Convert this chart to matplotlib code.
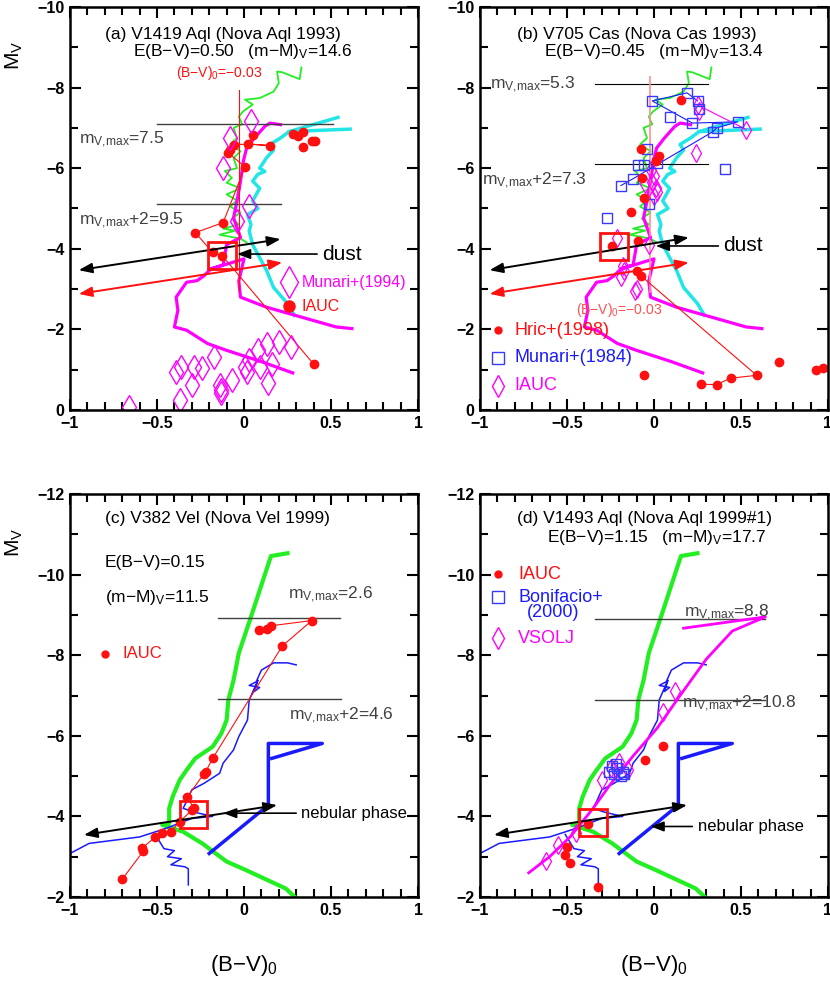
import matplotlib
matplotlib.use("Agg")
import matplotlib.pyplot as plt
from matplotlib.ticker import MultipleLocator

plt.rcParams["font.family"] = ["Liberation Sans", "DejaVu Sans"]
plt.rcParams["mathtext.default"] = "regular"

GREEN = "#22ee22"
CYAN = "#22e5e5"
MAG = "#ff00ff"
RED = "#ff1010"
BLUE = "#1a1aff"
GRAY = "#404040"

# ---- template tracks shared by panels (a) and (b) ----
ab_green_x = [0.33, 0.32, 0.22, 0.19, 0.20, 0.17, 0.09, 0.006, 0.05, -0.005, -0.03, -0.01, -0.06,
              -0.04, -0.08, -0.02, -0.06, -0.04, -0.11, -0.07, -0.10, -0.02, -0.10, -0.04, -0.08,
              -0.02, -0.07, -0.03, -0.12, -0.05, -0.14, -0.02, 0.015]
ab_green_y = [-8.50, -8.21, -8.38, -8.40, -8.11, -7.90, -7.74, -7.70, -7.58, -7.41, -7.28, -7.09, -7.0,
              -6.75, -6.59, -6.42, -6.25, -6.0, -5.93, -5.76, -5.64, -5.5, -5.35, -5.2, -5.05,
              -4.9, -4.75, -4.6, -4.5, -4.45, -4.35, -4.25, -4.16]
ab_cyan_x = [0.61, 0.26, 0.21, 0.15, 0.17, 0.13, 0.09, 0.12, 0.08, 0.05, 0.09, 0.05, 0.08, 0.02,
             0.04, 0.03, 0.05, 0.13, 0.17, 0.25, 0.29]
ab_cyan_y = [-6.97, -6.91, -6.75, -6.59, -6.45, -6.26, -6.0, -5.92, -5.85, -5.68, -5.5, -5.19,
             -5.0, -4.85, -4.6, -4.44, -4.1, -3.46, -3.04, -2.64, -2.35]
ab_cyan2_x = [0.54, 0.26]
ab_cyan2_y = [-7.26, -6.91]
ab_mag1_x = [0.21, 0.15, 0.12, 0.06, 0.015, -0.004, -0.02, -0.04, -0.06, -0.02, -0.10, -0.12,
             -0.19, 0.0, -0.03, -0.02, 0.13, 0.53, 0.62]
ab_mag1_y = [-7.08, -7.12, -7.04, -6.75, -6.5, -6.17, -5.68, -5.19, -4.77, -4.28, -4.1, -3.6,
             -3.5, -3.75, -3.2, -2.8, -2.55, -2.06, -2.02]
ab_mag2_x = [-0.19, -0.23, -0.27, -0.33, -0.39, -0.38, -0.40, -0.33, -0.21, -0.10, 0.10, 0.28]
ab_mag2_y = [-3.5, -3.33, -3.21, -3.17, -2.80, -2.47, -2.06, -1.98, -1.65, -1.48, -1.2, -0.92]

# ---- template tracks shared by panels (c) and (d) ----
cd_green_x = [0.25, 0.155, 0.11, 0.04, -0.03, -0.06, -0.09, -0.10, -0.13, -0.18, -0.28, -0.33,
              -0.37, -0.41, -0.43, -0.43, -0.47, -0.35, -0.24, -0.10, 0.01, 0.24, 0.30]
cd_green_y = [-10.53, -10.46, -9.87, -8.95, -8.05, -7.38, -6.89, -6.39, -6.06, -5.73, -5.44, -5.15,
              -4.90, -4.49, -4.20, -3.83, -3.79, -3.62, -3.33, -2.88, -2.67, -2.21, -1.97]
cd_blue_x = [0.30, 0.25, 0.17, 0.10, 0.07, 0.03, 0.09, 0.06, 0.08, 0.03, 0.02, -0.03, -0.06, -0.12,
             -0.14, -0.23, -0.30, -0.33, -0.35, -0.28, -0.18, -0.30, -0.45, -0.60, -0.89, -1.0]
cd_blue_y = [-7.76, -7.81, -7.81, -7.63, -7.34, -7.25, -7.2, -7.1, -7.38, -6.89, -6.39, -5.98, -5.65,
             -5.32, -5.07, -4.82, -4.66, -4.37, -4.2, -4.1, -4.0, -3.95, -3.7, -3.49, -3.33, -3.08]
cd_blue2_x = [-0.51, -0.46, -0.40, -0.44, -0.36, -0.42, -0.34, -0.32, -0.32]
cd_blue2_y = [-3.55, -3.2, -3.15, -3.0, -2.95, -2.8, -2.75, -2.7, -2.30]
cd_bthick_x = [-0.20, 0.14, 0.14, 0.45, 0.16]
cd_bthick_y = [-3.08, -4.28, -5.81, -5.81, -5.44]

# ---- (a) V1419 Aql ----
a_iauc_x = [0.28, 0.31, 0.34, 0.34, 0.39, 0.41, 0.05, 0.025, 0.15, -0.06, -0.08, -0.09, 0.006,
            -0.12, -0.28, -0.18, -0.125, 0.40]
a_iauc_y = [-6.86, -6.79, -6.89, -6.53, -6.68, -6.68, -6.83, -6.60, -6.56, -6.58, -6.46, -6.38, -6.03,
            -4.65, -4.40, -3.91, -3.83, -1.14]
a_path_x = [0.05, 0.025, 0.15, 0.025, -0.06, -0.09, 0.006, -0.12, -0.28, -0.18, -0.125, 0.40]
a_path_y = [-6.83, -6.60, -6.56, -6.60, -6.58, -6.38, -6.03, -4.65, -4.40, -3.91, -3.83, -1.14]
a_mun_x = [0.04, -0.08, -0.12, 0.03, -0.04, -0.17, -0.36, -0.39, -0.29, -0.24, -0.30, -0.37, -0.66,
           -0.14, -0.13, -0.07, 0.006, 0.03, 0.08, 0.13, 0.20, 0.27, 0.16, 0.09, 0.14, 0.015, -0.13]
a_mun_y = [-7.16, -6.75, -6.0, -5.06, -4.69, -1.32, -1.07, -0.95, -1.07, -1.03, -0.62, -0.25, -0.08,
           -0.62, -0.49, -0.74, -1.07, -1.23, -1.48, -1.65, -1.69, -1.56, -1.15, -1.07, -0.66, -0.95, -0.41]

# ---- (b) V705 Cas ----
b_hric_x = [0.155, -0.075, 0.03, 0.01, -0.07, -0.055, -0.135, -0.24, -0.09, -0.10, -0.075, -0.06,
            0.27, 0.36, 0.44, 0.59, 0.72, 0.93, 0.97]
b_hric_y = [-7.70, -6.48, -6.30, -6.17, -5.76, -5.27, -4.92, -4.07, -4.20, -3.46, -3.33, -0.86,
            -0.64, -0.63, -0.79, -0.86, -1.18, -0.99, -1.05]
b_hpath_x = [-0.075, 0.59, 0.44, 0.36, 0.27]
b_hpath_y = [-3.33, -0.86, -0.79, -0.63, -0.64]
b_mun_x = [-0.01, 0.19, 0.25, 0.26, 0.09, 0.22, 0.48, 0.36, 0.34, -0.04, -0.06, 0.41, -0.12, 0.02,
           -0.03, -0.19, -0.27, -0.09]
b_mun_y = [-7.67, -7.87, -7.67, -7.47, -7.27, -7.12, -7.15, -7.0, -6.91, -6.48, -6.07, -5.97, -5.74,
           -6.14, -5.10, -5.57, -4.77, -6.09]
b_mpath_x = [-0.19, -0.12, 0.34, 0.36, 0.48, 0.22, -0.01, 0.19, 0.25]
b_mpath_y = [-5.57, -5.74, -6.91, -7.0, -7.15, -7.12, -7.67, -7.87, -7.67]
b_iauc_x = [0.25, 0.26, 0.53, 0.24, -0.02, 0.0, -0.01, 0.01, 0.02, 0.0, -0.05, -0.18, -0.19, -0.10,
            -0.17, -0.11, -0.21, -0.03]
b_iauc_y = [-7.57, -7.42, -6.96, -6.38, -5.95, -5.8, -5.65, -5.5, -5.4, -5.3, -5.6, -3.58, -3.29,
            -3.0, -3.46, -2.96, -4.28, -4.1]
b_ipath_x = [0.25, 0.53]
b_ipath_y = [-7.57, -6.96]

# ---- (c) V382 Vel ----
c_iauc_x = [-0.70, -0.58, -0.585, -0.51, -0.47, -0.42, -0.37, -0.30, -0.29, -0.325, -0.23, -0.22,
            -0.18, 0.22, 0.39, 0.155, 0.135, 0.085]
c_iauc_y = [-2.44, -3.13, -3.21, -3.49, -3.58, -3.62, -3.87, -4.15, -4.20, -4.49, -5.06, -5.11,
            -5.44, -8.23, -8.86, -8.73, -8.65, -8.62]

# ---- (d) V1493 Aql ----
d_iauc_x = [0.05, -0.05, -0.38, -0.50, -0.51, -0.48, -0.32]
d_iauc_y = [-5.75, -5.4, -3.8, -3.25, -3.05, -2.85, -2.25]
d_bon_x = [-0.24, -0.21, -0.18, -0.23, -0.19, -0.26, -0.22, -0.17]
d_bon_y = [-5.25, -5.2, -5.1, -5.05, -5.0, -5.1, -5.3, -5.05]
d_vso_x = [-0.62, -0.55, -0.45, -0.25, -0.2, -0.15, -0.3, 0.05, 0.12]
d_vso_y = [-2.9, -3.3, -3.6, -5.2, -5.35, -5.15, -4.9, -6.6, -7.1]
d_mag_x = [0.17, 0.64, 0.45, 0.30, 0.15, 0.02, -0.12, -0.25, -0.35, -0.48, -0.60, -0.72]
d_mag_y = [-8.67, -8.95, -8.6, -7.9, -7.0, -6.2, -5.5, -4.8, -4.2, -3.5, -3.0, -2.6]

TXT = 12.5   # panel annotations
MV_MAX = "m$_{V{,}max}$"


def frame(ax, ylo, yhi):
    ax.set_xlim(-1, 1)
    ax.set_ylim(ylo, yhi)
    ax.xaxis.set_major_locator(MultipleLocator(0.5))
    ax.xaxis.set_minor_locator(MultipleLocator(0.1))
    ax.yaxis.set_major_locator(MultipleLocator(2))
    ax.yaxis.set_minor_locator(MultipleLocator(1))
    ax.tick_params(which="both", direction="in", top=True, right=True, width=1.5)
    ax.tick_params(which="major", length=8, labelsize=11.5, pad=4)
    ax.tick_params(which="minor", length=6)
    ax.xaxis.set_major_formatter(plt.FuncFormatter(lambda v, p: f"{v:g}".replace("-", "\u2212")))
    ax.yaxis.set_major_formatter(plt.FuncFormatter(lambda v, p: f"{v:g}".replace("-", "\u2212")))
    for lab in ax.get_xticklabels() + ax.get_yticklabels():
        lab.set_fontweight("bold")
    for s in ax.spines.values():
        s.set_linewidth(1.8)


def arrows(ax, left, right, color):
    ax.annotate("", xy=left, xytext=right,
                arrowprops=dict(arrowstyle="<|-|>,head_length=0.8,head_width=0.3",
                                color=color, lw=1.4, shrinkA=0, shrinkB=0))


def label_arrow(ax, tip, tail, text, size):
    ax.annotate("", xy=tip, xytext=tail,
                arrowprops=dict(arrowstyle="-|>,head_length=0.8,head_width=0.3",
                                color="black", lw=1.2, shrinkA=0, shrinkB=0))
    ax.text(tail[0] + 0.03, tail[1], text, fontsize=size, va="center")


def red_box(ax, cx, cy, hw, hh):
    ax.add_patch(plt.Rectangle((cx - hw, cy - hh), 2 * hw, 2 * hh, fill=False,
                               ec=RED, lw=2, zorder=6))


def ab_tracks(ax):
    ax.plot(ab_cyan_x, ab_cyan_y, color=CYAN, lw=2.5)
    ax.plot(ab_cyan2_x, ab_cyan2_y, color=CYAN, lw=2.5)
    ax.plot(ab_green_x, ab_green_y, color=GREEN, lw=1.3)
    ax.plot(ab_mag1_x, ab_mag1_y, color=MAG, lw=2.3)
    ax.plot(ab_mag2_x, ab_mag2_y, color=MAG, lw=2.3)


def cd_tracks(ax):
    ax.plot(cd_green_x, cd_green_y, color=GREEN, lw=3)
    ax.plot(cd_blue_x, cd_blue_y, color=BLUE, lw=1.1)
    ax.plot(cd_blue2_x, cd_blue2_y, color=BLUE, lw=1.1)
    ax.plot(cd_bthick_x, cd_bthick_y, color=BLUE, lw=2.5)


fig = plt.figure(figsize=(8.3, 9.85), dpi=100)
W, H = 830, 985
axa = fig.add_axes([70 / W, 1 - 410 / H, 348 / W, 403 / H])
axb = fig.add_axes([480 / W, 1 - 410 / H, 348 / W, 403 / H])
axc = fig.add_axes([70 / W, 1 - 897 / H, 348 / W, 403 / H])
axd = fig.add_axes([480 / W, 1 - 897 / H, 348 / W, 403 / H])

# ---------------- (a) ----------------
ax = axa
frame(ax, 0, -10)
ab_tracks(ax)
ax.plot([-0.5, 0.51], [-7.1, -7.1], color=GRAY, lw=1)
ax.plot([-0.5, 0.21], [-5.1, -5.1], color=GRAY, lw=1)
ax.text(-0.95, -6.7, MV_MAX + "=7.5", fontsize=TXT, color=GRAY, va="center")
ax.text(-0.95, -4.7, MV_MAX + "+2=9.5", fontsize=TXT, color=GRAY, va="center")
ax.plot([-0.03, -0.03], [-7.95, -2.96], color=RED, lw=0.8)
ax.text(-0.14, -8.35, "(B\u2212V)$_0$=\u22120.03", fontsize=10, color=RED, ha="center", va="center")
ax.plot(a_path_x, a_path_y, color=RED, lw=0.8)
ax.plot(a_iauc_x, a_iauc_y, "o", color=RED, ms=6)
ax.plot(a_mun_x, a_mun_y, "d", mfc="none", mec=MAG, ms=12, mew=1)
red_box(ax, -0.125, -3.83, 0.08, 0.33)
arrows(ax, (-0.95, -3.47), (0.21, -4.24), "black")
arrows(ax, (-0.95, -2.88), (0.22, -3.66), RED)
label_arrow(ax, (-0.04, -3.87), (0.42, -3.87), "dust", 15)
ax.plot([0.26], [-3.17], "d", mfc="none", mec=MAG, ms=16, mew=1)
ax.text(0.33, -3.17, "Munari+(1994)", fontsize=11.5, color=MAG, va="center")
ax.plot([0.26], [-2.57], "o", color=RED, ms=8)
ax.text(0.33, -2.57, "IAUC", fontsize=11.5, color=RED, va="center")
ax.text(-0.80, -9.33, "(a) V1419 Aql (Nova Aql 1993)", fontsize=TXT, va="center")
ax.text(-0.64, -8.89, "E(B\u2212V)=0.50   (m\u2212M)$_V$=14.6", fontsize=TXT, va="center")

# ---------------- (b) ----------------
ax = axb
frame(ax, 0, -10)
ab_tracks(ax)
ax.plot([-0.34, 0.31], [-8.1, -8.1], color="black", lw=0.8)
ax.plot([-0.34, 0.31], [-6.1, -6.1], color="black", lw=0.8)
ax.text(-0.94, -8.07, MV_MAX + "=5.3", fontsize=TXT, color=GRAY, va="center")
ax.text(-0.99, -5.68, MV_MAX + "+2=7.3", fontsize=TXT, color=GRAY, va="center")
ax.plot([-0.025, -0.025], [-8.27, -2.92], color="#ff9090", lw=1.2)
ax.text(-0.2, -2.47, "(B\u2212V)$_0$=\u22120.03", fontsize=10, color="#ff5050", ha="center", va="center")
ax.plot(b_hpath_x, b_hpath_y, color=RED, lw=0.8)
ax.plot(b_mpath_x, b_mpath_y, color=BLUE, lw=0.8)
ax.plot(b_ipath_x, b_ipath_y, color=MAG, lw=0.8)
ax.plot(b_iauc_x, b_iauc_y, "d", mfc="none", mec=MAG, ms=9, mew=0.9)
ax.plot(b_mun_x, b_mun_y, "s", mfc="none", mec="#3a3aff", ms=7, mew=1)
ax.plot(b_hric_x, b_hric_y, "o", color=RED, ms=6)
red_box(ax, -0.23, -4.05, 0.078, 0.33)
arrows(ax, (-0.945, -3.47), (0.20, -4.28), "black")
arrows(ax, (-0.945, -2.88), (0.20, -3.66), RED)
label_arrow(ax, (0.01, -4.07), (0.37, -4.07), "dust", 15)
ax.plot([-0.895], [-1.98], "o", color=RED, ms=5)
ax.text(-0.80, -1.98, "Hric+(1998)", fontsize=13, color=RED, va="center")
ax.plot([-0.895], [-1.30], "s", mfc="none", mec="#3a3aff", ms=8, mew=1)
ax.text(-0.80, -1.30, "Munari+(1984)", fontsize=13, color=BLUE, va="center")
ax.plot([-0.895], [-0.60], "d", mfc="none", mec=MAG, ms=11, mew=1)
ax.text(-0.80, -0.60, "IAUC", fontsize=13, color=MAG, va="center")
ax.text(-0.79, -9.33, "(b) V705 Cas (Nova Cas 1993)", fontsize=TXT, va="center")
ax.text(-0.63, -8.89, "E(B\u2212V)=0.45   (m\u2212M)$_V$=13.4", fontsize=TXT, va="center")

# ---------------- (c) ----------------
ax = axc
frame(ax, -2, -12)
cd_tracks(ax)
ax.plot([-0.15, 0.55], [-8.92, -8.92], color=GRAY, lw=1)
ax.plot([-0.15, 0.56], [-6.91, -6.91], color=GRAY, lw=1)
ax.text(0.25, -9.5, MV_MAX + "=2.6", fontsize=TXT, color=GRAY, va="center")
ax.text(0.26, -6.5, MV_MAX + "+2=4.6", fontsize=TXT, color=GRAY, va="center")
ax.plot(c_iauc_x, c_iauc_y, "-", color=RED, lw=0.8)
ax.plot(c_iauc_x, c_iauc_y, "o", color=RED, ms=6)
red_box(ax, -0.29, -4.05, 0.08, 0.34)
arrows(ax, (-0.92, -3.54), (0.19, -4.28), "black")
label_arrow(ax, (-0.12, -4.08), (0.30, -4.08), "nebular phase", 12)
ax.plot([-0.80], [-8.03], "o", color=RED, ms=5)
ax.text(-0.70, -8.03, "IAUC", fontsize=12, color=RED, va="center")
ax.text(-0.80, -11.40, "(c) V382 Vel (Nova Vel 1999)", fontsize=TXT, va="center")
ax.text(-0.80, -10.31, "E(B\u2212V)=0.15", fontsize=TXT, va="center")
ax.text(-0.80, -9.42, "(m\u2212M)$_V$=11.5", fontsize=TXT, va="center")

# ---------------- (d) ----------------
ax = axd
frame(ax, -2, -12)
cd_tracks(ax)
ax.plot([-0.34, 0.64], [-8.9, -8.9], color=GRAY, lw=1)
ax.plot([-0.34, 0.64], [-6.9, -6.9], color=GRAY, lw=1)
ax.text(0.17, -9.05, MV_MAX + "=8.8", fontsize=TXT, color=GRAY, va="center")
ax.text(0.16, -6.8, MV_MAX + "+2=10.8", fontsize=TXT, color=GRAY, va="center")
ax.plot(d_mag_x, d_mag_y, color=MAG, lw=2)
ax.plot(d_vso_x, d_vso_y, "d", mfc="none", mec=MAG, ms=9, mew=0.9)
ax.plot(d_bon_x, d_bon_y, "s", mfc="none", mec="#3a3aff", ms=7, mew=1)
ax.plot(d_iauc_x, d_iauc_y, "o", color=RED, ms=6)
red_box(ax, -0.35, -3.85, 0.08, 0.33)
arrows(ax, (-0.92, -3.54), (0.19, -4.28), "black")
label_arrow(ax, (-0.02, -3.75), (0.22, -3.75), "nebular phase", 12)
ax.plot([-0.895], [-10.01], "o", color=RED, ms=5)
ax.text(-0.78, -10.01, "IAUC", fontsize=13, color=RED, va="center")
ax.plot([-0.895], [-9.44], "s", mfc="none", mec="#3a3aff", ms=8, mew=1)
ax.text(-0.78, -9.44, "Bonifacio+", fontsize=13, color=BLUE, va="center")
ax.text(-0.73, -9.05, "(2000)", fontsize=13, color=BLUE, va="center")
ax.plot([-0.895], [-8.42], "d", mfc="none", mec=MAG, ms=11, mew=1)
ax.text(-0.78, -8.42, "VSOLJ", fontsize=13, color=MAG, va="center")
ax.text(-0.79, -11.40, "(d) V1493 Aql (Nova Aql 1999#1)", fontsize=TXT, va="center")
ax.text(-0.615, -10.91, "E(B\u2212V)=1.15   (m\u2212M)$_V$=17.7", fontsize=TXT, va="center")

for ax in (axa, axc):
    ax.text(-0.16, 0.88, "M$_V$", transform=ax.transAxes, fontsize=15, rotation=90,
            ha="center", va="center")
for ax in (axc, axd):
    ax.text(0.5, -0.17, "(B\u2212V)$_0$", transform=ax.transAxes, fontsize=16,
            ha="center", va="center")

fig.savefig("out.png", dpi=100)
